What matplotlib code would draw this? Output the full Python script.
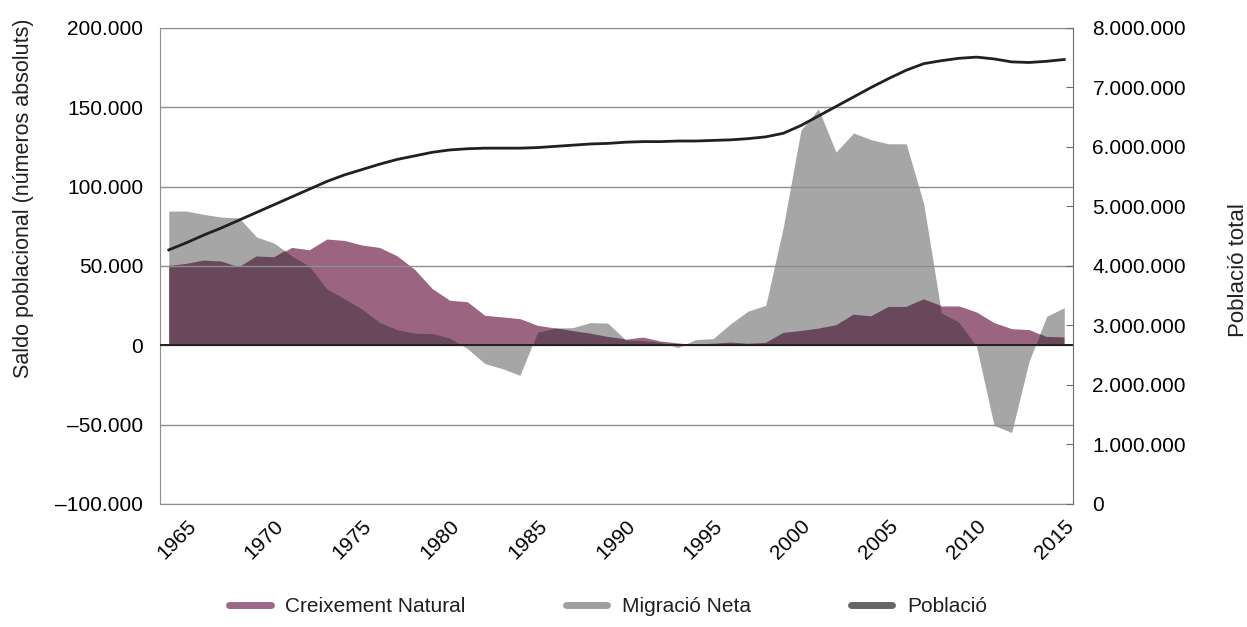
import matplotlib
matplotlib.use("Agg")
import matplotlib.pyplot as plt
from matplotlib.lines import Line2D
from matplotlib.ticker import FuncFormatter

plt.rcParams['font.family'] = ['Liberation Sans', 'DejaVu Sans']
plt.rcParams['text.color'] = '#231f20'

# yearly values
years = list(range(1964, 2016))

creixement_natural = [
    50000, 51300, 53400, 52800, 49200, 56000, 55500, 61700, 60200, 67000,
    66100, 63200, 61700, 56400, 47900, 35800, 28400, 27500, 18900, 17900,
    16800, 12600, 10900, 9000, 7400, 5300, 3800, 5200, 2700, 1500,
    500, 1000, 1700, 1000, 1500, 7800, 9000, 10500, 12600, 19300,
    18300, 24200, 24200, 29000, 24800, 24800, 21000, 14300, 10500, 9900,
    5300, 5000]

migracio_neta = [
    84600, 84600, 82500, 80800, 80300, 68300, 64400, 56500, 50000, 35800,
    29500, 23000, 14600, 10000, 7800, 7600, 4700, -2000, -11500, -14700,
    -18900, 8400, 10900, 11100, 14300, 14000, 3600, 3000, 2000, -1500,
    3600, 4200, 13600, 21600, 25200, 74600, 135500, 149000, 121800, 133800,
    129600, 127000, 127000, 89000, 20600, 14700, -500, -50400, -55000, -10000,
    18300, 23700]

poblacio = [
    4270000, 4390000, 4520000, 4640000, 4770000, 4900000, 5030000, 5160000,
    5290000, 5420000, 5530000, 5620000, 5710000, 5790000, 5850000, 5910000,
    5950000, 5970000, 5980000, 5980000, 5980000, 5990000, 6010000, 6030000,
    6050000, 6060000, 6080000, 6090000, 6090000, 6100000, 6100000, 6110000,
    6120000, 6140000, 6170000, 6230000, 6360000, 6520000, 6680000, 6840000,
    7000000, 7150000, 7290000, 7400000, 7450000, 7490000, 7510000, 7480000,
    7430000, 7420000, 7440000, 7470000]

year_ticks = [1965, 1970, 1975, 1980, 1985, 1990, 1995, 2000, 2005, 2010, 2015]

MAG = '#9b6581'
GRAY = '#a6a6a6'
DARK = '#6a485c'
LINE = '#231f20'
GRID = '#8e8e8e'


def num_fmt(v, pos):
    s = f"{abs(v):,.0f}".replace(",", ".")
    return "\u2013" + s if v < 0 else s


fig = plt.figure(figsize=(12.47, 6.27), dpi=100)
ax = fig.add_axes([0.1283, 0.1962, 0.7322, 0.7592])

mag = ax.fill_between(years, 0, creixement_natural, color=MAG, lw=0, zorder=1)
ax.fill_between(years, 0, migracio_neta, color=GRAY, lw=0, zorder=1)
# overlap of both areas in a darker tone
over = ax.fill_between(years, 0, migracio_neta, color=DARK, lw=0, zorder=1.5)
over.set_clip_path(mag.get_paths()[0], ax.transData)

ax.axhline(0, color=LINE, lw=1.4, zorder=3)

ax.set_xlim(1963.5, 2015.5)
ax.set_ylim(-100000, 200000)
ax.set_yticks(range(-100000, 200001, 50000))
ax.yaxis.set_major_formatter(FuncFormatter(num_fmt))
ax.set_axisbelow(False)
ax.grid(axis='y', color=GRID, lw=1.0)
ax.tick_params(axis='y', length=0, pad=12, labelsize=15)
ax.set_xticks(year_ticks)
ax.set_xticklabels([str(y) for y in year_ticks], rotation=45, ha='right',
                   rotation_mode='anchor', fontsize=15)
ax.tick_params(axis='x', length=0, pad=9)
for s in ax.spines.values():
    s.set_color(GRID)
ax.spines['right'].set_visible(False)

ax2 = ax.twinx()
ax2.plot(years, poblacio, color=LINE, lw=2.0, solid_joinstyle='round')
ax2.set_ylim(0, 8000000)
ax2.set_yticks(range(0, 8000001, 1000000))
ax2.yaxis.set_major_formatter(FuncFormatter(num_fmt))
ax2.tick_params(axis='y', direction='in', length=5, color='#6d6d6d', pad=14, labelsize=15)
for k in ['left', 'top', 'bottom']:
    ax2.spines[k].set_visible(False)
ax2.spines['right'].set_color('#6d6d6d')

fig.text(24 / 1247, 1 - 198 / 627, 'Saldo poblacional (números absoluts)',
         rotation=90, ha='center', va='center', fontsize=15.5)
fig.text(1238 / 1247, 1 - 270 / 627, 'Població total',
         rotation=90, ha='center', va='center', fontsize=16)

handles = [Line2D([], [], color='#9b6a88', lw=5, solid_capstyle='round'),
           Line2D([], [], color='#a0a0a0', lw=5, solid_capstyle='round'),
           Line2D([], [], color='#666666', lw=5, solid_capstyle='round')]
fig.legend(handles, ['Creixement Natural', 'Migració Neta', 'Població'],
           loc='center', bbox_to_anchor=(608 / 1247, 1 - 607 / 627), ncol=3,
           frameon=False, fontsize=15, handlelength=2.0, handletextpad=0.7,
           columnspacing=4.8)

fig.savefig('out.png', dpi=100)
